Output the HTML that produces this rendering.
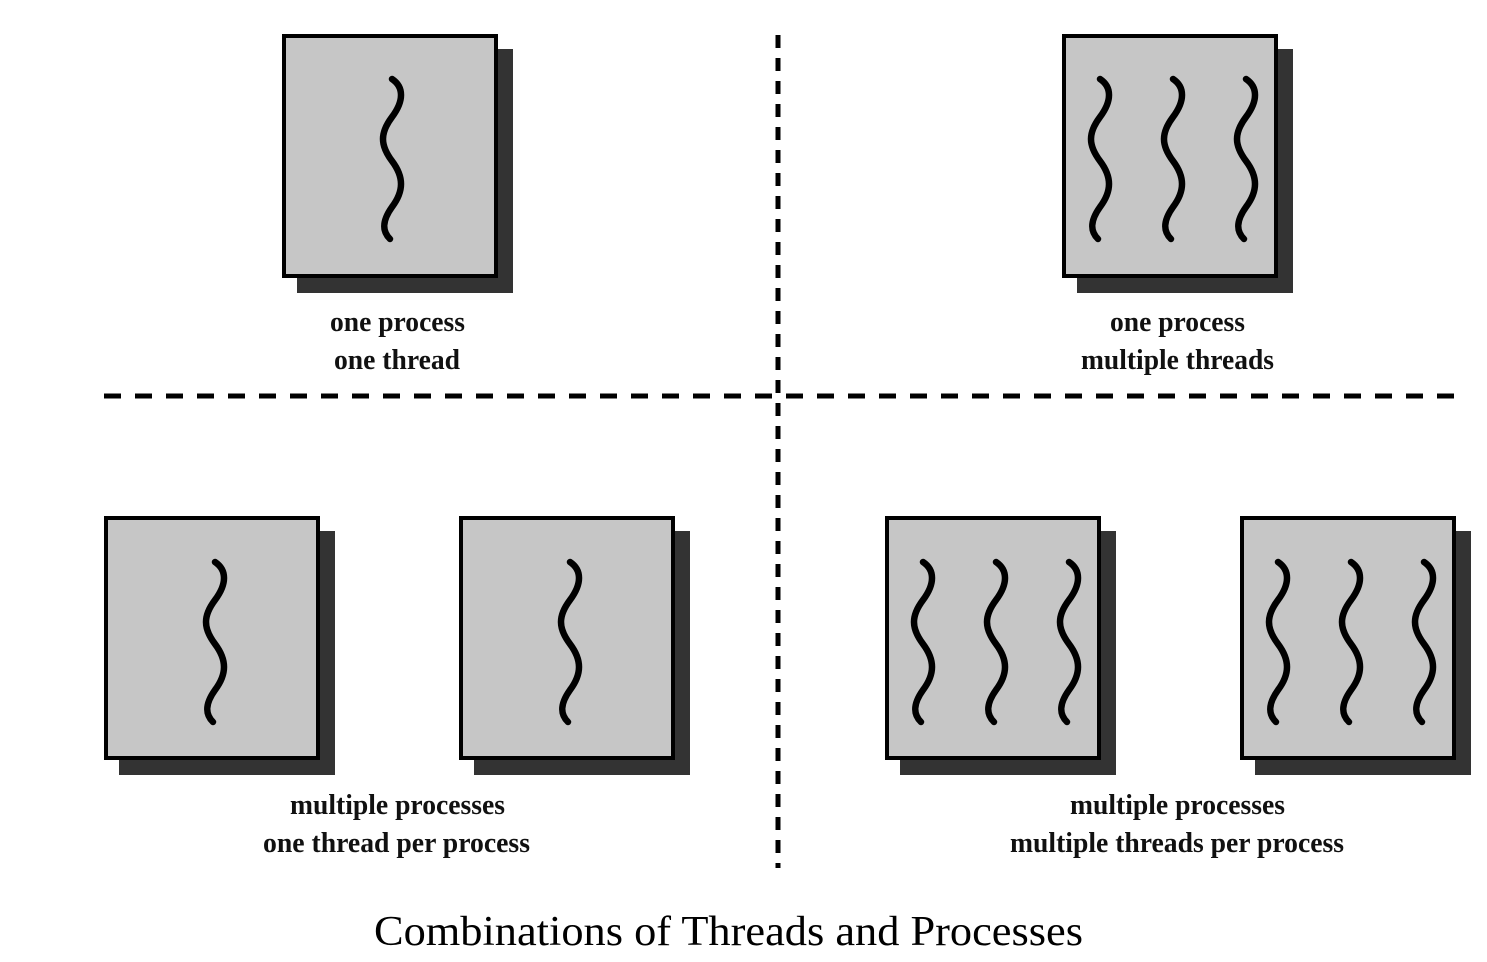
<!DOCTYPE html>
<html><head><meta charset="utf-8"><style>html,body{margin:0;padding:0;background:#fff}</style></head><body>
<svg width="1487" height="957" viewBox="0 0 1487 957" xmlns="http://www.w3.org/2000/svg">
<defs>
<path id="w" d="M0,0 C12,8 12,22 0,38 C-12,54 -12,66 0,82 C12,98 12,112 0,128 C-10,142 -10,152 -2,160" fill="none" stroke="#000" stroke-width="6.5" stroke-linecap="round"/>
<g id="box"><rect x="15" y="15" width="216" height="244" fill="#333"/><rect x="2" y="2" width="212" height="240" fill="#c6c6c6" stroke="#000" stroke-width="4"/></g>
</defs>
<g stroke="#000" stroke-width="5">
<line x1="104" y1="396" x2="1468" y2="396" stroke-dasharray="17,14"/>
<line x1="778" y1="35" x2="778" y2="868" stroke-dasharray="13,10"/>
</g>
<use href="#box" x="282" y="34"/>
<use href="#box" x="1062" y="34"/>
<use href="#box" x="104" y="516"/>
<use href="#box" x="459" y="516"/>
<use href="#box" x="885" y="516"/>
<use href="#box" x="1240" y="516"/>
<use href="#w" x="392" y="79"/>
<use href="#w" x="1100" y="79"/><use href="#w" x="1173" y="79"/><use href="#w" x="1246" y="79"/>
<use href="#w" x="215" y="562"/>
<use href="#w" x="570" y="562"/>
<use href="#w" x="923" y="562"/><use href="#w" x="996" y="562"/><use href="#w" x="1069" y="562"/>
<use href="#w" x="1278" y="562"/><use href="#w" x="1351" y="562"/><use href="#w" x="1424" y="562"/>
<g font-family="Liberation Serif, serif" font-weight="bold" font-size="29" fill="#111">
<text x="330" y="331" textLength="135" lengthAdjust="spacingAndGlyphs">one process</text>
<text x="334" y="369" textLength="126" lengthAdjust="spacingAndGlyphs">one thread</text>
<text x="1110" y="331" textLength="135" lengthAdjust="spacingAndGlyphs">one process</text>
<text x="1081" y="369" textLength="193" lengthAdjust="spacingAndGlyphs">multiple threads</text>
<text x="290" y="814" textLength="215" lengthAdjust="spacingAndGlyphs">multiple processes</text>
<text x="263" y="852" textLength="267" lengthAdjust="spacingAndGlyphs">one thread per process</text>
<text x="1070" y="814" textLength="215" lengthAdjust="spacingAndGlyphs">multiple processes</text>
<text x="1010" y="852" textLength="334" lengthAdjust="spacingAndGlyphs">multiple threads per process</text>
</g>
<text x="374" y="945" font-family="Liberation Serif, serif" font-size="42" fill="#000" textLength="709" lengthAdjust="spacingAndGlyphs">Combinations of Threads and Processes</text>
</svg>
</body></html>
